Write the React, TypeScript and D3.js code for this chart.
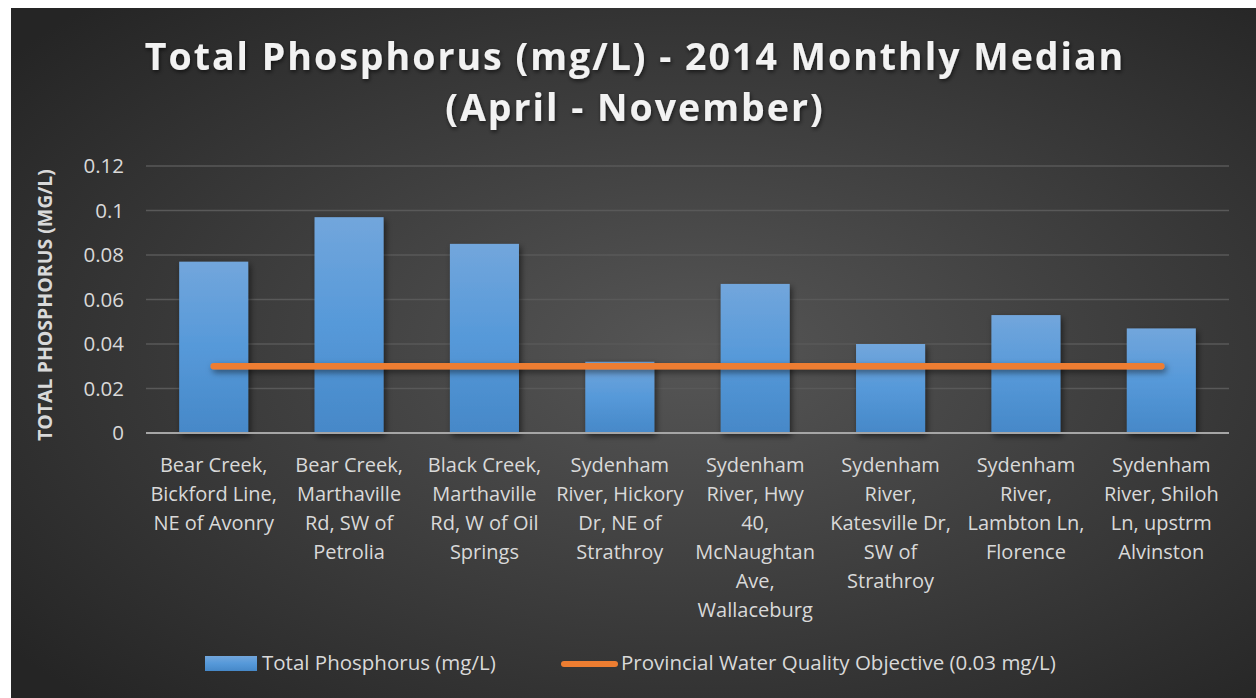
import React from 'react';
import { scaleBand, scaleLinear, line } from 'd3';

const categories = [
  'Bear Creek,\nBickford Line,\nNE of Avonry',
  'Bear Creek,\nMarthaville\nRd, SW of\nPetrolia',
  'Black Creek,\nMarthaville\nRd, W of Oil\nSprings',
  'Sydenham\nRiver, Hickory\nDr, NE of\nStrathroy',
  'Sydenham\nRiver, Hwy\n40,\nMcNaughtan\nAve,\nWallaceburg',
  'Sydenham\nRiver,\nKatesville Dr,\nSW of\nStrathroy',
  'Sydenham\nRiver,\nLambton Ln,\nFlorence',
  'Sydenham\nRiver, Shiloh\nLn, upstrm\nAlvinston',
];
const phosphorus = [0.077, 0.097, 0.085, 0.032, 0.067, 0.04, 0.053, 0.047];
const objective = [0.03, 0.03, 0.03, 0.03, 0.03, 0.03, 0.03, 0.03];
const yTicks = [0, 0.02, 0.04, 0.06, 0.08, 0.1, 0.12];

const W = 1256;
const H = 698;
const FONT = "'Open Sans', 'Noto Sans', sans-serif";

const App = () => {
  const x = scaleBand<number>()
    .domain(categories.map((_, i) => i))
    .range([146, 1229])
    .paddingInner(0.49)
    .paddingOuter(0.245);
  const y = scaleLinear().domain([0, 0.12]).range([433, 166]);

  const objLine = line<number>()
    .x((_, i) => (x(i) as number) + x.bandwidth() / 2)
    .y(d => y(d));

  return (
    <svg width={W} height={H} style={{ position: 'absolute', left: 0, top: 0 }} fontFamily={FONT}>
      <defs>
        <radialGradient id="bg" cx="0.55" cy="0.5" r="0.7">
          <stop offset="0" stopColor="#565656" />
          <stop offset="1" stopColor="#252525" />
        </radialGradient>
        <linearGradient id="bar" x1="0" y1="0" x2="0" y2="1">
          <stop offset="0" stopColor="#72a6dc" />
          <stop offset="0.5" stopColor="#5699d9" />
          <stop offset="1" stopColor="#4688c8" />
        </linearGradient>
        <filter id="shadow" x="-30%" y="-30%" width="160%" height="160%">
          <feDropShadow dx="2" dy="3" stdDeviation="3" floodColor="#000" floodOpacity="0.55" />
        </filter>
        <filter id="lshadow" filterUnits="userSpaceOnUse" x="0" y="0" width={W} height={H}>
          <feDropShadow dx="2" dy="3" stdDeviation="3" floodColor="#000" floodOpacity="0.5" />
        </filter>
        <filter id="tshadow" x="-10%" y="-30%" width="120%" height="160%">
          <feDropShadow dx="1" dy="2" stdDeviation="2" floodColor="#000" floodOpacity="0.6" />
        </filter>
      </defs>
      <rect width={W} height={H} fill="#fff" />
      <rect x={11} y={8} width={W - 11} height={H - 8} fill="url(#bg)" />

      <g filter="url(#tshadow)" fill="#f2f2f2" fontWeight="bold" fontSize={37.5} letterSpacing={2} textAnchor="middle">
        <text x={635} y={70}>Total Phosphorus (mg/L) - 2014 Monthly Median</text>
        <text x={635} y={121}>(April - November)</text>
      </g>

      {yTicks.map(t => (
        <g key={t}>
          {t > 0 && (
            <line x1={146} x2={1229} y1={y(t)} y2={y(t)} stroke="#595959" strokeWidth={1.5} />
          )}
          <text x={124} y={y(t)} dy="0.35em" textAnchor="end" fill="#d9d9d9" fontSize={20.5}>
            {t}
          </text>
        </g>
      ))}

      <text
        transform={`translate(52,305) rotate(-90)`}
        textAnchor="middle"
        fill="#d9d9d9"
        fontWeight="bold"
        fontSize={19.5}
      >
        TOTAL PHOSPHORUS (MG/L)
      </text>

      <g filter="url(#shadow)">
        {phosphorus.map((v, i) => (
          <rect
            key={i}
            x={x(i)}
            y={y(v)}
            width={x.bandwidth()}
            height={y(0) - y(v)}
            fill="url(#bar)"
          />
        ))}
      </g>

      <line x1={146} x2={1229} y1={y(0)} y2={y(0)} stroke="#a6a6a6" strokeWidth={2} />

      <path
        d={objLine(objective) || ''}
        fill="none"
        stroke="#ed7d31"
        strokeWidth={6.5}
        strokeLinecap="round"
        filter="url(#lshadow)"
      />

      {categories.map((c, i) => (
        <text
          key={i}
          x={(x(i) as number) + x.bandwidth() / 2}
          y={472}
          textAnchor="middle"
          fill="#d9d9d9"
          fontSize={20}
        >
          {c.split('\n').map((l, j) => (
            <tspan key={j} x={(x(i) as number) + x.bandwidth() / 2} dy={j === 0 ? 0 : 29}>
              {l}
            </tspan>
          ))}
        </text>
      ))}

      <g fontSize={20.5} fill="#d9d9d9">
        <rect x={205} y={656} width={52} height={15} fill="url(#bar)" />
        <text x={262} y={663} dy="0.35em">Total Phosphorus (mg/L)</text>
        <line x1={564} x2={615} y1={664} y2={664} stroke="#ed7d31" strokeWidth={6} strokeLinecap="round" />
        <text x={621} y={663} dy="0.35em">Provincial Water Quality Objective (0.03 mg/L)</text>
      </g>
    </svg>
  );
};

export default App;
